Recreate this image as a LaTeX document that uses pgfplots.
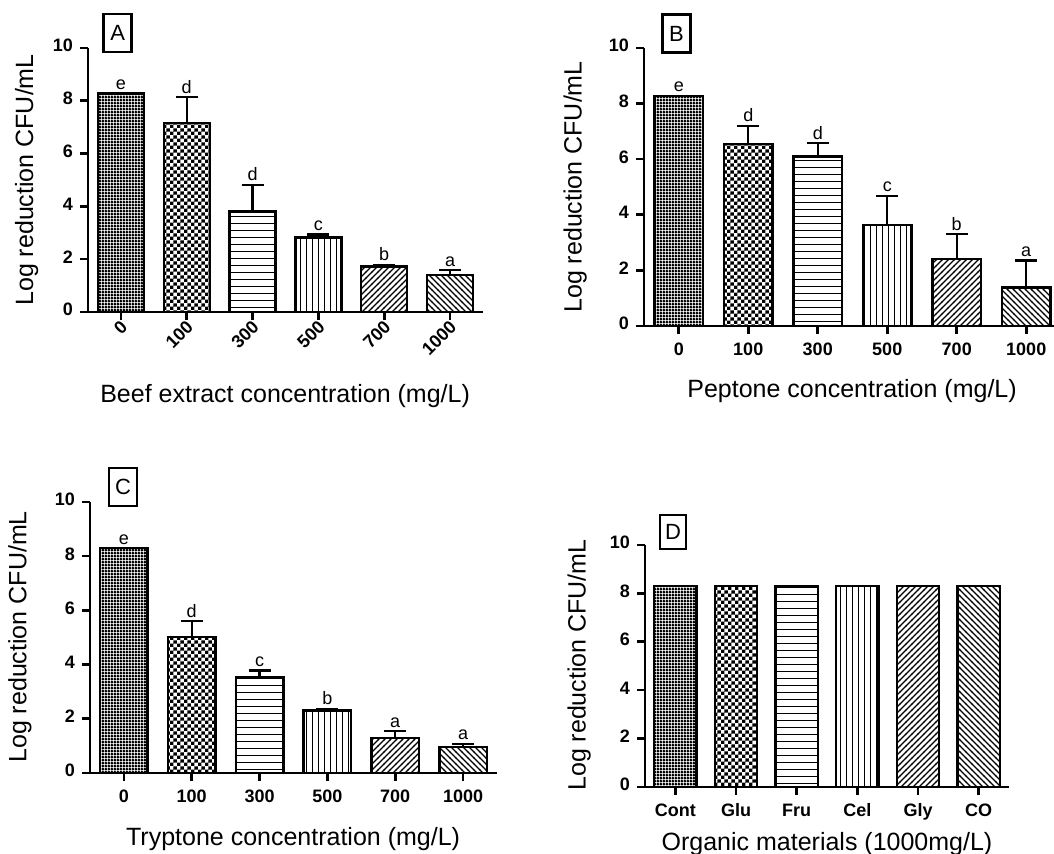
\documentclass[border=0pt]{standalone}
\usepackage{fontspec}
\setmainfont{Liberation Sans}
\usepackage{pgfplots}
\pgfplotsset{compat=1.18}
\usetikzlibrary{patterns}

\pgfdeclarepatternformonly{finechecker}{\pgfqpoint{0pt}{0pt}}{\pgfqpoint{1.5pt}{1.5pt}}{\pgfqpoint{1.5pt}{1.5pt}}{%
  \pgfpathrectangle{\pgfqpoint{0pt}{0pt}}{\pgfqpoint{1.5pt}{1pt}}%
  \pgfpathrectangle{\pgfqpoint{0pt}{0.95pt}}{\pgfqpoint{1pt}{0.55pt}}%
  \pgfusepath{fill}}
\pgfdeclarepatternformonly{checker}{\pgfqpoint{0pt}{0pt}}{\pgfqpoint{3.4pt}{3.4pt}}{\pgfqpoint{3.4pt}{3.4pt}}{%
  \pgfpathrectangle{\pgfqpoint{0pt}{0pt}}{\pgfqpoint{1.75pt}{1.75pt}}%
  \pgfpathrectangle{\pgfqpoint{1.7pt}{1.7pt}}{\pgfqpoint{1.75pt}{1.75pt}}%
  \pgfusepath{fill}}
\pgfdeclarepatternformonly{hl}{\pgfqpoint{0pt}{0pt}}{\pgfqpoint{100pt}{0.6pt}}{\pgfqpoint{100pt}{3.5pt}}{%
  \pgfsetlinewidth{0.6pt}%
  \pgfpathmoveto{\pgfqpoint{0pt}{0.3pt}}\pgfpathlineto{\pgfqpoint{100pt}{0.3pt}}\pgfusepath{stroke}}
\pgfdeclarepatternformonly{vl}{\pgfqpoint{0pt}{0pt}}{\pgfqpoint{0.6pt}{100pt}}{\pgfqpoint{3pt}{100pt}}{%
  \pgfsetlinewidth{0.6pt}%
  \pgfpathmoveto{\pgfqpoint{0.3pt}{0pt}}\pgfpathlineto{\pgfqpoint{0.3pt}{100pt}}\pgfusepath{stroke}}
\pgfdeclarepatternformonly{nel}{\pgfqpoint{-1pt}{-1pt}}{\pgfqpoint{4pt}{4pt}}{\pgfqpoint{3pt}{3pt}}{%
  \pgfsetlinewidth{0.6pt}%
  \pgfpathmoveto{\pgfqpoint{-0.1pt}{-0.1pt}}\pgfpathlineto{\pgfqpoint{3.1pt}{3.1pt}}\pgfusepath{stroke}}
\pgfdeclarepatternformonly{nwl}{\pgfqpoint{-1pt}{-1pt}}{\pgfqpoint{4pt}{4pt}}{\pgfqpoint{3pt}{3pt}}{%
  \pgfsetlinewidth{0.6pt}%
  \pgfpathmoveto{\pgfqpoint{-0.1pt}{3.1pt}}\pgfpathlineto{\pgfqpoint{3.1pt}{-0.1pt}}\pgfusepath{stroke}}

\tikzset{boxlab/.style={draw, line width=1.2pt, minimum width=14pt, minimum height=19pt, inner sep=0pt, font=\fontsize{11}{12}\selectfont}}

\pgfplotsset{
  panel/.style={
    scale only axis, anchor=south west, clip=false,
    ymin=0, ymax=10, ytick={0,2,...,10}, xmin=-0.5, xmax=5.5, xtick={0,...,5},
    axis x line*=bottom, axis y line*=left,
    axis line style={line width=1.3pt, black},
    tick style={line width=1.3pt, black},
    tick align=outside, major tick length=4pt,
    /pgf/number format/assume math mode=true,
    typeset ticklabels with strut,
    ticklabel style={font=\fontsize{9}{10}\selectfont\bfseries},
    label style={font=\fontsize{12.5}{14}\selectfont},
    ylabel={Log reduction CFU/mL},
  },
  bbar/.style={ybar, bar width=0.7, bar shift=0pt, draw=black, line width=1.2pt, pattern=#1},
  ebar/.style={error bars/.cd, y dir=plus, y explicit, error mark=|,
    error bar style={line width=1.2pt, black},
    error mark options={line width=1.2pt, mark size=5.5pt, black}},
  letters/.style={only marks, mark=*, mark size=0pt, mark options={draw=none, fill=none},
    point meta=explicit symbolic, nodes near coords,
    nodes near coords style={anchor=base, yshift=2pt, inner sep=0pt, font=\fontsize{9}{10}\selectfont, black}},
}

\begin{document}
\begin{tikzpicture}
\useasboundingbox (0,0) rectangle (527pt,427pt);

% Panel A
\begin{axis}[panel, at={(44pt,271pt)}, width=197.5pt, height=132pt,
  xticklabels={0,100,300,500,700,1000},
  xticklabel style={rotate=45, anchor=east, yshift=-3.5pt, xshift=1pt, inner sep=1pt},
  xlabel={Beef extract concentration (mg/L)},
  xlabel style={at={(axis description cs:0.499,-0.32)}, anchor=center},
  ylabel style={at={(axis description cs:-0.155,0.5)}, anchor=center}]
\addplot[bbar=finechecker] coordinates {(0,8.27)};
\addplot[bbar=checker, ebar] coordinates {(1,7.16) +- (0,0.98)};
\addplot[bbar=hl, ebar] coordinates {(2,3.80) +- (0,1.02)};
\addplot[bbar=vl, ebar] coordinates {(3,2.82) +- (0,0.11)};
\addplot[bbar=nel, ebar] coordinates {(4,1.73) +- (0,0.05)};
\addplot[bbar=nwl, ebar] coordinates {(5,1.41) +- (0,0.17)};
\addplot[letters] coordinates {(0,8.27)[e] (1,8.14)[d] (2,4.82)[d] (3,2.93)[c] (4,1.78)[b] (5,1.58)[a]};
\node[boxlab] at (axis description cs:0.075,1.057) {A};
\end{axis}

% Panel B
\begin{axis}[panel, at={(322pt,264pt)}, width=208.5pt, height=139pt,
  xticklabels={0,100,300,500,700,1000},
  xlabel={Peptone concentration (mg/L)},
  xlabel style={at={(axis description cs:0.499,-0.235)}, anchor=center},
  ylabel style={at={(axis description cs:-0.165,0.5)}, anchor=center}]
\addplot[bbar=finechecker] coordinates {(0,8.28)};
\addplot[bbar=checker, ebar] coordinates {(1,6.55) +- (0,0.65)};
\addplot[bbar=hl, ebar] coordinates {(2,6.10) +- (0,0.48)};
\addplot[bbar=vl, ebar] coordinates {(3,3.63) +- (0,1.05)};
\addplot[bbar=nel, ebar] coordinates {(4,2.40) +- (0,0.90)};
\addplot[bbar=nwl, ebar] coordinates {(5,1.39) +- (0,0.96)};
\addplot[letters] coordinates {(0,8.28)[e] (1,7.20)[d] (2,6.58)[d] (3,4.68)[c] (4,3.30)[b] (5,2.35)[a]};
\node[boxlab] at (axis description cs:0.078,1.052) {B};
\end{axis}

% Panel C
\begin{axis}[panel, at={(45pt,40.5pt)}, width=203.5pt, height=135.5pt,
  xticklabels={0,100,300,500,700,1000},
  xlabel={Tryptone concentration (mg/L)},
  xlabel style={at={(axis description cs:0.499,-0.244)}, anchor=center},
  ylabel style={at={(axis description cs:-0.172,0.502)}, anchor=center}]
\addplot[bbar=finechecker] coordinates {(0,8.30)};
\addplot[bbar=checker, ebar] coordinates {(1,5.02) +- (0,0.58)};
\addplot[bbar=hl, ebar] coordinates {(2,3.54) +- (0,0.24)};
\addplot[bbar=vl, ebar] coordinates {(3,2.31) +- (0,0.06)};
\addplot[bbar=nel, ebar] coordinates {(4,1.29) +- (0,0.25)};
\addplot[bbar=nwl, ebar] coordinates {(5,0.97) +- (0,0.10)};
\addplot[letters] coordinates {(0,8.30)[e] (1,5.60)[d] (2,3.78)[c] (3,2.37)[b] (4,1.54)[a] (5,1.07)[a]};
\node[boxlab] at (axis description cs:0.081,1.055) {C};
\end{axis}

% Panel D
\begin{axis}[panel, at={(322.5pt,33.5pt)}, width=182pt, height=121pt,
  xticklabels={Cont,Glu,Fru,Cel,Gly,CO},
  xlabel={Organic materials (1000mg/L)},
  xlabel style={at={(axis description cs:0.5,-0.236)}, anchor=center},
  ylabel style={at={(axis description cs:-0.181,0.504)}, anchor=center}]
\addplot[bbar=finechecker] coordinates {(0,8.30)};
\addplot[bbar=checker] coordinates {(1,8.30)};
\addplot[bbar=hl] coordinates {(2,8.30)};
\addplot[bbar=vl] coordinates {(3,8.30)};
\addplot[bbar=nel] coordinates {(4,8.30)};
\addplot[bbar=nwl] coordinates {(5,8.30)};
\node[boxlab, minimum width=13pt, minimum height=17pt] at (axis description cs:0.077,1.054) {D};
\end{axis}
\end{tikzpicture}
\end{document}
